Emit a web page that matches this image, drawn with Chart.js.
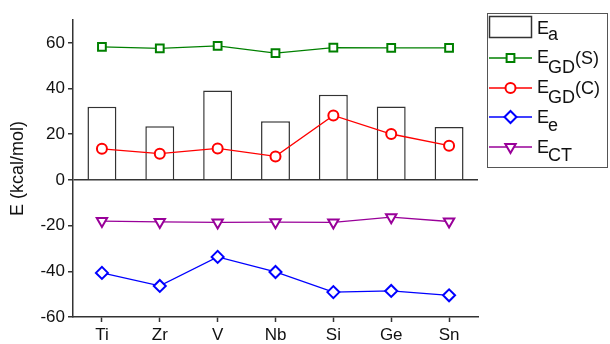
<!DOCTYPE html>
<html>
<head>
<meta charset="utf-8">
<script src="https://cdn.jsdelivr.net/npm/chart.js@4/dist/chart.umd.min.js"></script>
<style>
  html, body { margin: 0; padding: 0; background: #fff; }
  #wrap { width: 610px; height: 344px; position: relative; }
</style>
</head>
<body>
<div id="wrap"><canvas id="c" width="610" height="344"></canvas></div>
<script>
// Metals / metalloids along the x axis
const categories = ['Ti', 'Zr', 'V', 'Nb', 'Si', 'Ge', 'Sn'];

// Energy terms in kcal/mol
const Ea    = [32.0, 23.5, 39.1, 25.7, 37.3, 32.1, 23.2];
const EGD_S = [58.2, 57.6, 58.7, 55.5, 57.9, 57.8, 57.8];
const EGD_C = [13.6, 11.5, 13.8, 10.3, 28.2, 20.1, 15.0];
const Ee    = [-40.7, -46.4, -33.7, -40.3, -49.1, -48.6, -50.5];
const ECT   = [-18.0, -18.4, -18.6, -18.5, -18.6, -16.3, -18.2];

// Legend entries: main letter, subscript, trailing text
const legendItems = [
  { main: 'E', sub: 'a',  tail: '',    kind: 'box' },
  { main: 'E', sub: 'GD', tail: '(S)', kind: 'line', color: '#008000', style: 'rect',     radius: 5.5, rot: 0 },
  { main: 'E', sub: 'GD', tail: '(C)', kind: 'line', color: '#ff0000', style: 'circle',   radius: 5,   rot: 0 },
  { main: 'E', sub: 'e',  tail: '',    kind: 'line', color: '#0000ff', style: 'rectRot',  radius: 6,   rot: 0 },
  { main: 'E', sub: 'CT', tail: '',    kind: 'line', color: '#990099', style: 'triangle', radius: 6,   rot: 180 }
];

const FONT = "'Liberation Sans', Arial, sans-serif";
const AXIS = '#333333';

function lineSet(label, data, color, style, radius, rot) {
  return {
    type: 'line', label, data,
    borderColor: color, borderWidth: 1.3,
    pointStyle: style, pointRadius: radius, pointRotation: rot,
    pointBorderColor: color, pointBackgroundColor: '#ffffff', pointBorderWidth: 2,
    pointHoverRadius: radius, tension: 0, order: 1
  };
}

// Boxed legend with subscripted labels, drawn on the canvas
const boxedLegend = {
  id: 'boxedLegend',
  afterDraw(chart) {
    const ctx = chart.ctx;
    ctx.save();
    ctx.strokeStyle = '#555';
    ctx.lineWidth = 1;
    ctx.strokeRect(487.5, 13.5, 120, 154);
    const rows = [26.5, 58, 88, 117, 147];
    const baselines = [34.3, 63.3, 93, 123.3, 152.5];
    const subShift = [5.5, 9.5, 9.5, 7.5, 8];
    legendItems.forEach((it, i) => {
      const y = rows[i];
      if (it.kind === 'box') {
        ctx.strokeStyle = AXIS;
        ctx.lineWidth = 1.5;
        ctx.strokeRect(489.5, 16.5, 42, 21);
      } else {
        ctx.strokeStyle = it.color;
        ctx.lineWidth = 1.3;
        ctx.beginPath();
        ctx.moveTo(489, y);
        ctx.lineTo(532, y);
        ctx.stroke();
        ctx.fillStyle = '#fff';
        ctx.strokeStyle = it.color;
        ctx.lineWidth = 2;
        Chart.helpers.drawPoint(ctx, { pointStyle: it.style, radius: it.radius, rotation: it.rot, borderWidth: 2 }, 510.5, y);
      }
      ctx.fillStyle = '#111';
      ctx.textBaseline = 'alphabetic';
      ctx.textAlign = 'left';
      ctx.font = '18px ' + FONT;
      const base = baselines[i];
      let x = 537;
      ctx.fillText(it.main, x, base);
      x += ctx.measureText(it.main).width - 1;
      ctx.fillText(it.sub, x, base + subShift[i]);
      x += ctx.measureText(it.sub).width;
      if (it.tail) ctx.fillText(it.tail, x, base + 1);
    });
    ctx.restore();
  }
};

new Chart(document.getElementById('c'), {
  data: {
    labels: categories,
    datasets: [
      {
        type: 'bar', label: 'Ea', data: Ea,
        backgroundColor: '#ffffff', borderColor: AXIS, borderWidth: 1.5,
        borderSkipped: 'bottom', barPercentage: 0.5, categoryPercentage: 1, order: 10
      },
      lineSet('EGD(S)', EGD_S, '#008000', 'rect', 5.5, 0),
      lineSet('EGD(C)', EGD_C, '#ff0000', 'circle', 5, 0),
      lineSet('Ee', Ee, '#0000ff', 'rectRot', 6, 0),
      lineSet('ECT', ECT, '#990099', 'triangle', 6, 180)
    ]
  },
  options: {
    responsive: false,
    animation: false,
    events: [],
    layout: { padding: { top: 20, right: 132, left: 0, bottom: 0 } },
    plugins: { legend: { display: false }, tooltip: { enabled: false } },
    scales: {
      x: {
        offset: true,
        grid: { offset: false, drawOnChartArea: false, drawTicks: true, tickLength: 5, tickColor: AXIS, tickWidth: 1.5 },
        border: { display: true, color: AXIS, width: 1.5 },
        ticks: { color: '#111', font: { family: FONT, size: 17 }, padding: 3, maxRotation: 0 },
        afterFit(s) { s.height = 27; }
      },
      y: {
        min: -60, max: 70,
        grid: {
          drawTicks: true, tickLength: 5, tickColor: AXIS, tickWidth: 1.5,
          color: c => (c.tick && c.tick.value === 0 ? AXIS : 'rgba(0,0,0,0)'),
          lineWidth: 1.5
        },
        border: { display: true, color: AXIS, width: 1.5 },
        ticks: { stepSize: 20, includeBounds: false, color: '#111', font: { family: FONT, size: 17 }, padding: 3 },
        title: { display: true, text: 'E (kcal/mol)', color: '#111', font: { family: FONT, size: 18 }, padding: { top: 7, bottom: 0 } },
        afterFit(s) { s.width = 73; }
      }
    }
  },
  plugins: [boxedLegend]
});
</script>
</body>
</html>
